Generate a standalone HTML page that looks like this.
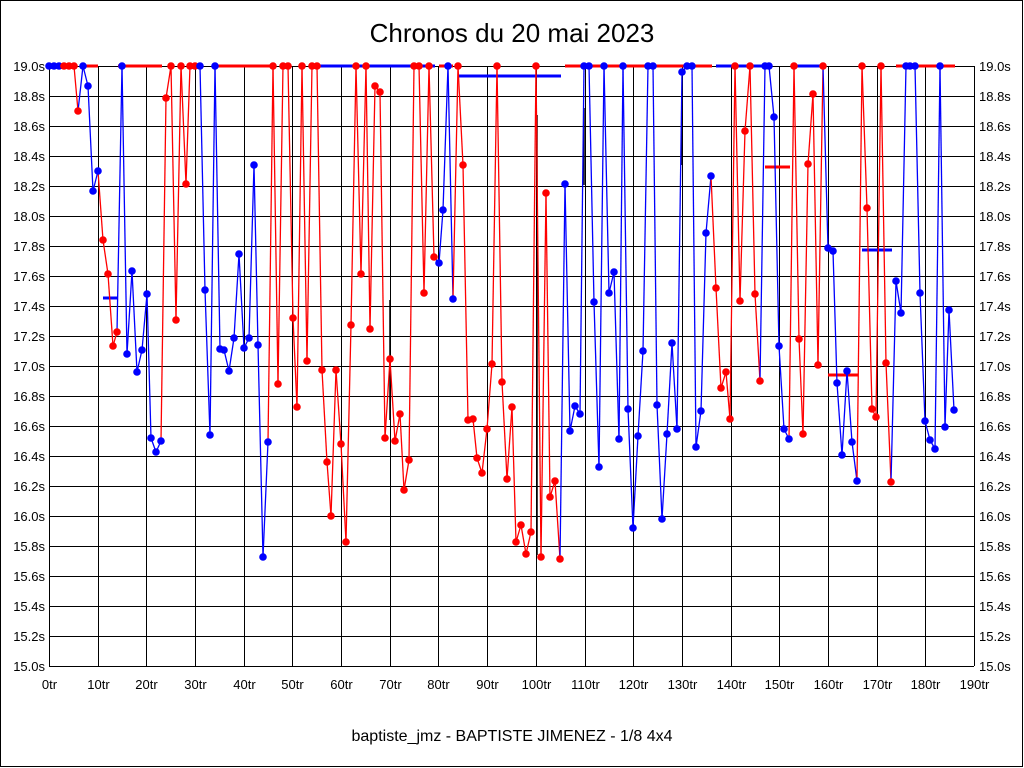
<!DOCTYPE html>
<html><head><meta charset="utf-8"><style>
html,body{margin:0;padding:0;background:#fff}
svg{display:block}
text{font-family:"Liberation Sans",sans-serif}
</style></head><body>
<svg id="s" width="1024" height="768" xmlns="http://www.w3.org/2000/svg">
<rect x="0.5" y="0.5" width="1022" height="766" fill="#fff" stroke="#000"/>
<text x="512" y="42" font-size="26" text-anchor="middle">Chronos du 20 mai 2023</text>
<text x="512" y="741" font-size="16" text-anchor="middle">baptiste_jmz - BAPTISTE JIMENEZ - 1/8 4x4</text>
<g id="grid" stroke="#000" stroke-width="1"></g>
<g id="lab" font-size="13"></g>
<g id="ser"></g>
</svg>
<script>
var NS="http://www.w3.org/2000/svg";
function el(p,t,a,txt){var e=document.createElementNS(NS,t);for(var k in a)e.setAttribute(k,a[k]);if(txt!=null)e.textContent=txt;p.appendChild(e);return e;}
var g=document.getElementById('grid'),lab=document.getElementById('lab'),ser=document.getElementById('ser');
var L=49,R=974,T=66,B=666;
for(var i=0;i<=20;i++){var y=T+i*30;el(g,'line',{x1:L,x2:R,y1:y+0.5,y2:y+0.5});
 var v=(19-i*0.2).toFixed(1)+'s';
 el(lab,'text',{x:45,y:y+5,'text-anchor':'end'},v);el(lab,'text',{x:979,y:y+5},v);}
for(var k=0;k<=19;k++){var x=Math.round(L+k*(R-L)/19)+0.5;el(g,'line',{x1:x,x2:x,y1:T,y2:B});
 el(lab,'text',{x:x,y:689,'text-anchor':'middle'},(k*10)+'tr');}
var bars=[[118,162,66,'r'],[83,98,66,'r'],[215,270,66,'r'],[317,370,66,'b'],[366,435,66,'b'],[439,453,66,'r'],[565,583,66,'r'],[590,712,66,'r'],[716,762,66,'b'],[794,823,66,'b'],[896,907,66,'r'],[917,955,66,'r'],
[103,118,298,'b'],[458,561,76,'b'],[765,790,167,'r'],[828,858,375,'r'],[862,892,250,'b']];
var col={r:'#ff0000',b:'#0000ff'};
bars.forEach(function(b){el(ser,'line',{x1:b[0],x2:b[1],y1:b[2],y2:b[2],stroke:col[b[3]],'stroke-width':3});});
[[537,115,555],[584,108,185],[682,107,165],[390,300,420]].forEach(function(b){el(ser,'line',{x1:b[0],x2:b[0],y1:b[1],y2:b[2],stroke:'#000','stroke-width':1.5});});
var P=[[49,66,'b'],[54,66,'b'],[59,66,'b'],[64,66,'r'],[69,66,'r'],[74,66,'r'],[78,111,'r'],[83,66,'b'],[88,86,'b'],[93,191,'b'],[98,171,'b'],
[103,240,'r'],[108,274,'r'],[113,346,'r'],[117,332,'r'],[122,66,'b'],[127,354,'b'],[132,271,'b'],[137,372,'b'],[142,350,'b'],[147,294,'b'],[151,438,'b'],[156,452,'b'],[161,441,'b'],
[166,98,'r'],[171,66,'r'],[176,320,'r'],[181,66,'r'],[186,184,'r'],[190,66,'r'],[195,66,'r'],[200,66,'b'],[205,290,'b'],[210,435,'b'],[215,66,'b'],
[220,349,'b'],[224,350,'b'],[229,371,'b'],[234,338,'b'],[239,254,'b'],[244,348,'b'],[249,338,'b'],[254,165,'b'],[258,345,'b'],[263,557,'b'],[268,442,'b'],
[273,66,'r'],[278,384,'r'],[283,66,'r'],[288,66,'r'],[293,318,'r'],[297,407,'r'],[302,66,'r'],[307,361,'r'],[312,66,'r'],[317,66,'r'],[322,370,'r'],[327,462,'r'],[331,516,'r'],[336,370,'r'],[341,444,'r'],[346,542,'r'],[351,325,'r'],[356,66,'r'],[361,274,'r'],[366,66,'r'],[370,329,'r'],
[375,86,'r'],[380,92,'r'],[385,438,'r'],[390,359,'r'],[395,441,'r'],[400,414,'r'],[404,490,'r'],[409,460,'r'],[414,66,'r'],[419,66,'r'],[424,293,'r'],[429,66,'r'],[434,257,'r'],
[439,263,'b'],[443,210,'b'],[448,66,'b'],[453,299,'b'],[458,66,'r'],[463,165,'r'],[468,420,'r'],[473,419,'r'],[477,458,'r'],[482,473,'r'],[487,429,'r'],[492,364,'r'],[497,66,'r'],[502,382,'r'],[507,479,'r'],[512,407,'r'],[516,542,'r'],[521,525,'r'],[526,554,'r'],[531,532,'r'],[536,66,'r'],[541,557,'r'],[546,193,'r'],[550,497,'r'],[555,481,'r'],[560,559,'r'],
[565,184,'b'],[570,431,'b'],[575,406,'b'],[580,414,'b'],[584,66,'b'],[589,66,'b'],[594,302,'b'],[599,467,'b'],[604,66,'b'],[609,293,'b'],[614,272,'b'],[619,439,'b'],[623,66,'b'],[628,409,'b'],[633,528,'b'],[638,436,'b'],[643,351,'b'],[648,66,'b'],[653,66,'b'],[657,405,'b'],[662,519,'b'],[667,434,'b'],[672,343,'b'],[677,429,'b'],[682,72,'b'],[687,66,'b'],[692,66,'b'],[696,447,'b'],[701,411,'b'],[706,233,'b'],[711,176,'b'],
[716,288,'r'],[721,388,'r'],[726,372,'r'],[730,419,'r'],[735,66,'r'],[740,301,'r'],[745,131,'r'],[750,66,'r'],[755,294,'r'],[760,381,'r'],
[765,66,'b'],[769,66,'b'],[774,117,'b'],[779,346,'b'],[784,429,'b'],[789,439,'b'],[794,66,'r'],[799,339,'r'],[803,434,'r'],[808,164,'r'],[813,94,'r'],[818,365,'r'],[823,66,'r'],
[828,248,'b'],[833,251,'b'],[837,383,'b'],[842,455,'b'],[847,371,'b'],[852,442,'b'],[857,481,'b'],[862,66,'r'],[867,208,'r'],[872,409,'r'],[876,417,'r'],[881,66,'r'],[886,363,'r'],[891,482,'r'],
[896,281,'b'],[901,313,'b'],[906,66,'b'],[910,66,'b'],[915,66,'b'],[920,293,'b'],[925,421,'b'],[930,440,'b'],[935,449,'b'],[940,66,'b'],[945,427,'b'],[949,310,'b'],[954,410,'b']];
for(var i=1;i<P.length;i++){var a=P[i-1],b=P[i];
 el(ser,'line',{x1:a[0],y1:a[1],x2:b[0],y2:b[1],stroke:col[b[2]],'stroke-width':1.3});}
P.forEach(function(p){el(ser,'circle',{cx:p[0],cy:p[1],r:3.8,fill:col[p[2]]});});
</script>
</body></html>
